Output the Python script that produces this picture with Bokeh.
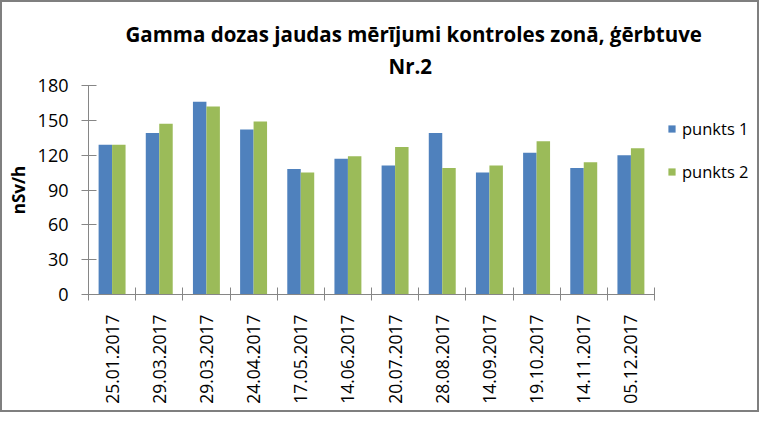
from bokeh.plotting import figure
from bokeh.models import (ColumnDataSource, FixedTicker, Legend, LegendItem, Title, Range1d)
from bokeh.embed import file_html
from bokeh.resources import INLINE

# ---- data ----
dates = ["25.01.2017", "29.03.2017", "29.03.2017", "24.04.2017", "17.05.2017", "14.06.2017",
         "20.07.2017", "28.08.2017", "14.09.2017", "19.10.2017", "14.11.2017", "05.12.2017"]
punkts1 = [129, 139, 166, 142, 108, 117, 111, 139, 105, 122, 109, 120]
punkts2 = [129, 147, 162, 149, 105, 119, 127, 109, 111, 132, 114, 126]
series_names = ["punkts 1", "punkts 2"]
y_ticks = [0, 30, 60, 90, 120, 150, 180]
title_line1 = "Gamma dozas jaudas  mērījumi kontroles zonā, ģērbtuve"
title_line2 = "Nr.2"
y_label = "nSv/h"

BLUE = "#4F81BD"
GREEN = "#9BBB59"
AXIS = "#868686"
FONT = "Open Sans"

n = len(dates)
centers = [i + 0.5 for i in range(n)]
bar_w = 1 / 3.5  # Excel gap width 150%

src = ColumnDataSource(dict(
    x1=[c - bar_w / 2 for c in centers],
    x2=[c + bar_w / 2 for c in centers],
    p1=punkts1, p2=punkts2,
))

W, H = 759, 412
LEFT, RIGHT, TOP, BOTTOM = 86, 8, 83, 120
FRAME_W = W - LEFT - RIGHT
CAT_W = 566 / n
p = figure(width=W, height=H, output_backend="svg", toolbar_location=None,
           x_range=Range1d(0, FRAME_W / CAT_W), y_range=Range1d(0, 180),
           min_border_left=LEFT, min_border_right=RIGHT, min_border_top=TOP, min_border_bottom=BOTTOM)
p.outline_line_color = None
p.xgrid.visible = False
p.ygrid.visible = False
p.background_fill_color = "white"
p.border_fill_color = "white"
p.styles = {"border": "2px solid #7f7f7f", "box-sizing": "border-box"}

r1 = p.vbar(x="x1", top="p1", width=bar_w, source=src, fill_color=BLUE, line_color=None)
r2 = p.vbar(x="x2", top="p2", width=bar_w, source=src, fill_color=GREEN, line_color=None)

# y axis
ya = p.yaxis[0]
ya.ticker = FixedTicker(ticks=y_ticks)
ya.axis_line_color = AXIS
ya.major_tick_line_color = AXIS
ya.major_tick_in = 8
ya.major_tick_out = 7
ya.minor_tick_line_color = None
ya.major_label_standoff = 13
ya.major_label_text_font = FONT
ya.major_label_text_font_size = "18px"
ya.major_label_text_color = "black"
ya.axis_label = y_label
ya.axis_label_text_font = FONT
ya.axis_label_text_font_size = "17px"
ya.axis_label_text_font_style = "bold"
ya.axis_label_text_color = "black"
ya.axis_label_standoff = 5

# x axis: labels at centers, tick marks at category boundaries (minor ticks)
xa = p.xaxis[0]
xa.bounds = (0, n)
xa.ticker = FixedTicker(ticks=centers, minor_ticks=list(range(n + 1)))
xa.major_label_overrides = {c: d for c, d in zip(centers, dates)}
xa.major_label_orientation = 1.5707963
xa.axis_line_color = AXIS
xa.major_tick_line_color = None
xa.major_tick_in = 0
xa.major_tick_out = 0
xa.minor_tick_line_color = AXIS
xa.minor_tick_in = 7
xa.minor_tick_out = 6
xa.major_label_standoff = 14
xa.major_label_text_font = FONT
xa.major_label_text_font_size = "17.5px"
xa.major_label_text_color = "black"

# title (two lines)
t2 = Title(text=title_line2, align="left", offset=300, vertical_align="top", text_font=FONT,
           text_font_size="20.5px", text_font_style="bold", text_color="black", standoff=8)
t1 = Title(text=title_line1, align="left", offset=37, text_font=FONT,
           text_font_size="20.5px", text_font_style="bold", text_color="black", standoff=0)
p.add_layout(t2, "above")
p.add_layout(t1, "above")

legend = Legend(items=[LegendItem(label=series_names[0], renderers=[r1]),
                       LegendItem(label=series_names[1], renderers=[r2])],
                location=(579, 111), orientation="vertical",
                glyph_width=9, glyph_height=9, label_height=20, spacing=20,
                padding=0, margin=0, border_line_color=None, background_fill_alpha=0,
                label_text_font=FONT, label_text_font_size="16.5px", label_text_color="black",
                label_standoff=6)
p.add_layout(legend, "center")

open("out.html", "w").write(file_html(p, INLINE))
